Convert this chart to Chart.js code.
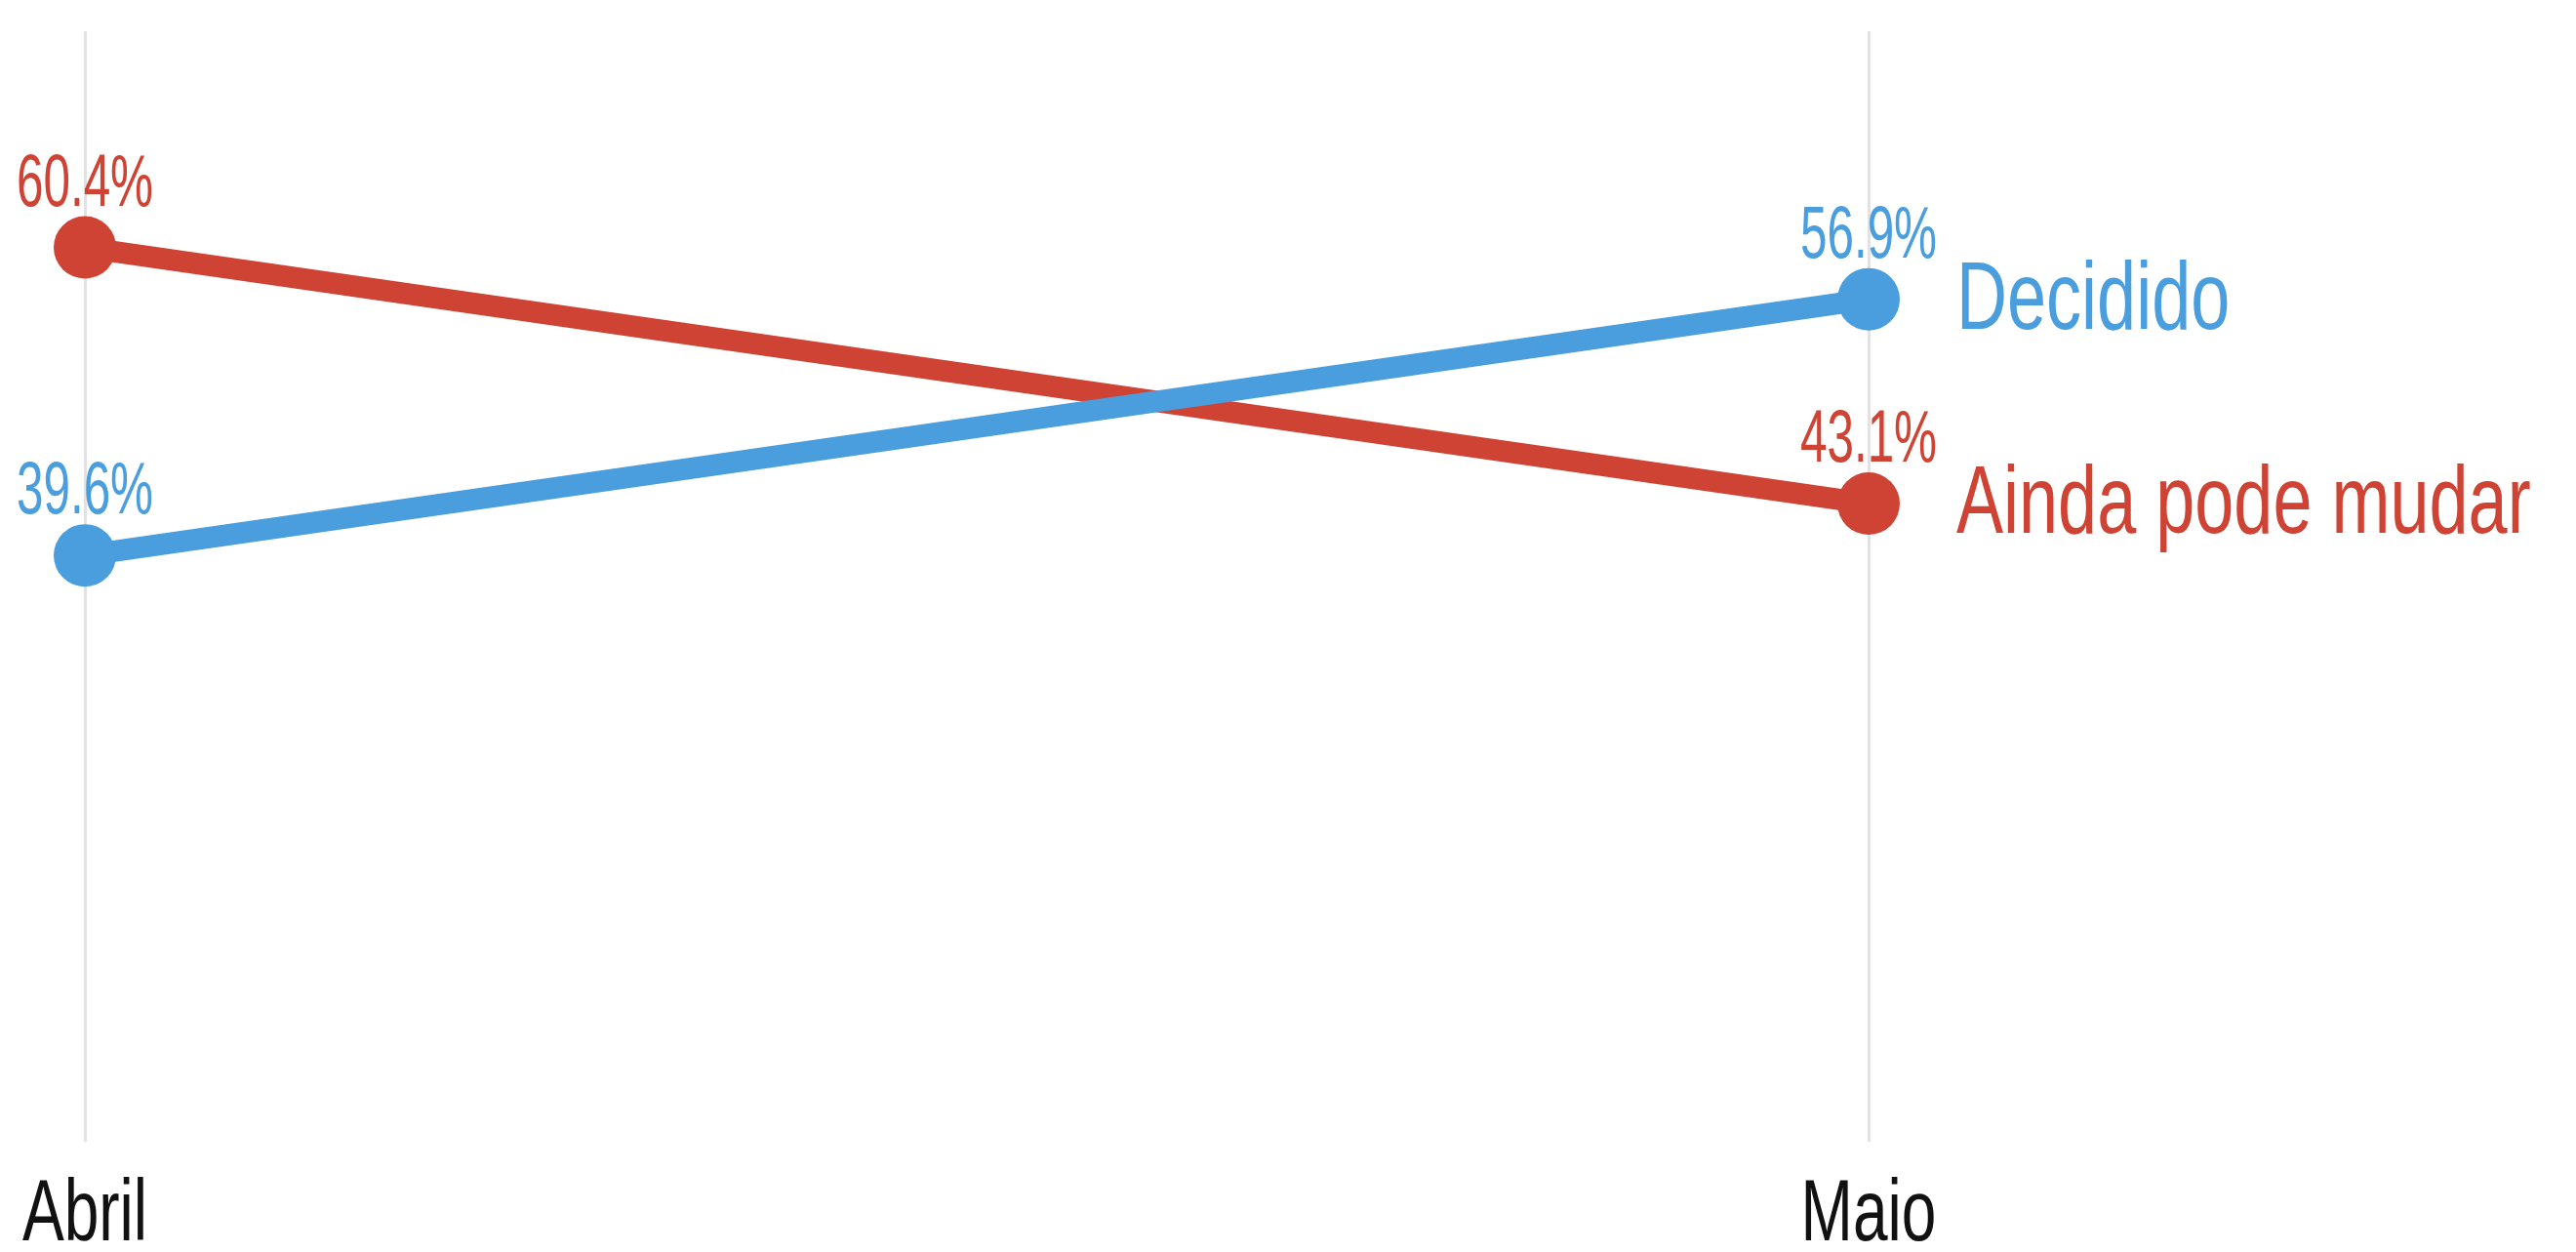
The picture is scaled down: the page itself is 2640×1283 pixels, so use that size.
<!DOCTYPE html>
<html>
<head>
<meta charset="utf-8">
<script src="https://cdn.jsdelivr.net/npm/chart.js@4/dist/chart.umd.min.js"></script>
<style>
    html, body { margin: 0; padding: 0; background: #fff; }
    #wrap { width: 2640px; height: 1283px; }
</style>
</head>
<body>
<div id="wrap"><canvas id="chart"></canvas></div>
<script>
const months = ['Abril', 'Maio'];
const decidido = [39.6, 56.9];
const aindaPode = [60.4, 43.1];
const seriesNames = ['Decidido', 'Ainda pode mudar'];

const BLUE = '#4a9ede';
const RED = '#ce4334';
const FONT = '"Liberation Sans", Arial, sans-serif';

// the original type is a tight condensed grotesque, so squeeze the text horizontally
function squeezedText(ctx, text, x, y, size, stretch, align) {
    ctx.save();
    ctx.font = size + 'px ' + FONT;
    ctx.textBaseline = 'alphabetic';
    ctx.textAlign = align;
    ctx.translate(x, y);
    ctx.scale(stretch, 1);
    ctx.fillText(text, 0, 0);
    ctx.restore();
}

// values above the points, series names after the last point, month labels under the grid lines
const labelPlugin = {
    id: 'labels',
    afterDatasetsDraw(chart) {
        const ctx = chart.ctx;
        chart.data.datasets.forEach((ds, i) => {
            const meta = chart.getDatasetMeta(i);
            ctx.fillStyle = ds.borderColor;
            meta.data.forEach((pt, j) => {
                squeezedText(ctx, ds.data[j].toFixed(1) + '%', pt.x, pt.y - 43, 76, 0.65, 'center');
            });
            const last = meta.data[meta.data.length - 1];
            squeezedText(ctx, ds.label, last.x + 90, last.y + 30, 98, 0.735, 'left');
        });

        const xs = chart.scales.x;
        ctx.fillStyle = '#111';
        xs.ticks.forEach((t, i) => {
            squeezedText(ctx, xs.getLabelForValue(t.value), xs.getPixelForTick(i), chart.chartArea.bottom + 101, 89, 0.72, 'center');
        });
    }
};

new Chart(document.getElementById('chart'), {
    type: 'line',
    data: {
        labels: months,
        datasets: [
            {
                label: seriesNames[0],
                data: decidido,
                borderColor: BLUE,
                backgroundColor: BLUE,
                borderWidth: 22,
                pointRadius: 32,
                pointHoverRadius: 32,
                pointBorderWidth: 0,
                tension: 0
            },
            {
                label: seriesNames[1],
                data: aindaPode,
                borderColor: RED,
                backgroundColor: RED,
                borderWidth: 22,
                pointRadius: 32,
                pointHoverRadius: 32,
                pointBorderWidth: 0,
                tension: 0
            }
        ]
    },
    options: {
        responsive: true,
        maintainAspectRatio: false,
        animation: false,
        layout: { padding: { left: 87, right: 725, top: 31, bottom: 113 } },
        plugins: {
            legend: { display: false },
            tooltip: { enabled: false }
        },
        scales: {
            x: {
                offset: false,
                border: { display: false },
                grid: { color: '#e2e2e2', lineWidth: 3, drawTicks: false },
                ticks: { display: false }
            },
            y: {
                display: false,
                min: 0,
                max: 75
            }
        }
    },
    plugins: [labelPlugin]
});
</script>
</body>
</html>
